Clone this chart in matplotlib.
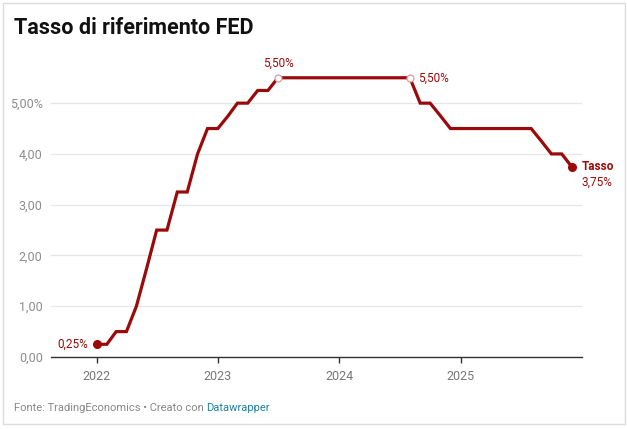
#!/usr/bin/env python3

import pandas as pd
import matplotlib.pyplot as plt
import matplotlib.dates as mdates
from matplotlib.patches import Rectangle

# Monthly Fed funds rate (upper bound), Jan 2022 - Dec 2025
start_month = "2022-01-01"
rates = [
    0.25, 0.25, 0.50, 0.50, 1.00, 1.75, 2.50, 2.50, 3.25, 3.25, 4.00, 4.50,  # 2022
    4.50, 4.75, 5.00, 5.00, 5.25, 5.25, 5.50, 5.50, 5.50, 5.50, 5.50, 5.50,  # 2023
    5.50, 5.50, 5.50, 5.50, 5.50, 5.50, 5.50, 5.50, 5.00, 5.00, 4.75, 4.50,  # 2024
    4.50, 4.50, 4.50, 4.50, 4.50, 4.50, 4.50, 4.50, 4.25, 4.00, 4.00, 3.75,  # 2025
]
y_ticks = [0, 1, 2, 3, 4, 5]
y_labels = ["0,00", "1,00", "2,00", "3,00", "4,00", "5,00%"]
years = [2022, 2023, 2024, 2025]
peak_idx = [18, 31]  # Jul 2023, Aug 2024

RED = "#9b0a0a"


def main():
    plt.rcParams["font.family"] = ["Roboto", "DejaVu Sans"]
    dates = pd.date_range(start_month, periods=len(rates), freq="MS")

    fig = plt.figure(figsize=(6.27, 4.29), dpi=100)
    fig.patches.append(Rectangle((3 / 627, 5 / 429), 622 / 627, 421 / 429,
                                 transform=fig.transFigure, fill=False,
                                 edgecolor="#dcdcdc", linewidth=1))
    ax = fig.add_axes([51 / 627, 72 / 429, 531 / 627, 297 / 429])

    ax.plot(dates, rates, color=RED, linewidth=2.3, solid_joinstyle="miter", zorder=3)
    ax.plot(dates[[0, -1]], [rates[0], rates[-1]], "o", color=RED, markersize=5.5, zorder=4)
    ax.plot(dates[peak_idx], [rates[i] for i in peak_idx], "o", markersize=5,
            markerfacecolor="white", markeredgecolor="#d99a9a", markeredgewidth=0.9, zorder=4)

    # labels on the line
    ax.annotate("0,25%", (dates[0], rates[0]), xytext=(-6, 0), textcoords="offset points",
                ha="right", va="center", color=RED, fontsize=8.5)
    ax.annotate("5,50%", (dates[peak_idx[0]], rates[peak_idx[0]]), xytext=(0, 6),
                textcoords="offset points", ha="center", va="bottom", color=RED, fontsize=8.5)
    ax.annotate("5,50%", (dates[peak_idx[1]], rates[peak_idx[1]]), xytext=(6, 0),
                textcoords="offset points", ha="left", va="center", color=RED, fontsize=8.5)
    ax.annotate("Tasso", (dates[-1], rates[-1]), xytext=(7, 0), textcoords="offset points",
                ha="left", va="center", color=RED, fontsize=8.5, fontweight="bold")
    ax.annotate("3,75%", (dates[-1], rates[-1]), xytext=(7, -11), textcoords="offset points",
                ha="left", va="center", color=RED, fontsize=8.5)

    ax.set_xlim(pd.Timestamp("2021-08-17"), pd.Timestamp("2026-01-01"))
    ax.set_ylim(0, 5.85)
    ax.set_xticks([pd.Timestamp(f"{y}-01-01") for y in years])
    ax.xaxis.set_major_formatter(mdates.DateFormatter("%Y"))
    ax.set_yticks(y_ticks)
    ax.set_yticklabels(y_labels)

    for s in ["top", "right", "left"]:
        ax.spines[s].set_visible(False)
    ax.spines["bottom"].set_color("#333333")
    ax.spines["bottom"].set_linewidth(1)
    ax.grid(axis="y", color="#e6e6e6", linewidth=0.9)
    ax.set_axisbelow(True)
    ax.tick_params(axis="y", length=0, pad=6, labelsize=9, labelcolor="#8c8c8c")
    ax.tick_params(axis="x", length=4, width=1, color="#333333", pad=5,
                   labelsize=9, labelcolor="#777777")

    fig.text(14 / 627, 1 - 28 / 429, "Tasso di riferimento FED", fontsize=15.5,
             fontweight="bold", color="#111111", ha="left", va="center")
    t = fig.text(14 / 627, 1 - 408 / 429, "Fonte: TradingEconomics • Creato con ",
                 fontsize=8, color="#888888", ha="left", va="center")
    fig.canvas.draw()
    bb = t.get_window_extent()
    fig.text(bb.x1 / fig.bbox.width, 1 - 408 / 429, "Datawrapper", fontsize=8,
             color="#1d81a2", ha="left", va="center")

    fig.savefig("out.png", dpi=100, facecolor="white")


if __name__ == "__main__":
    main()
